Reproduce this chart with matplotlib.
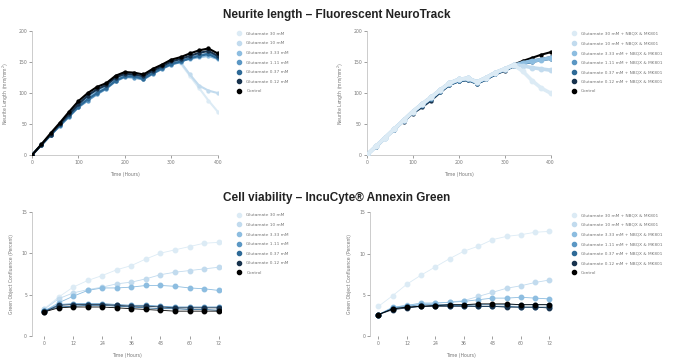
import matplotlib.pyplot as plt

# neurite length, sampled every 20 h
hours_nl = list(range(0, 401, 20))
# cell viability, every 6 h
hours_cv = list(range(0, 73, 6))

labels_left = ['Glutamate 30 mM', 'Glutamate 10 mM', 'Glutamate 3.33 mM',
               'Glutamate 1.11 mM', 'Glutamate 0.37 mM', 'Glutamate 0.12 mM', 'Control']
labels_right = ['Glutamate 30 mM + NBQX & MK801', 'Glutamate 10 mM + NBQX & MK801',
                'Glutamate 3.33 mM + NBQX & MK801', 'Glutamate 1.11 mM + NBQX & MK801',
                'Glutamate 0.37 mM + NBQX & MK801', 'Glutamate 0.12 mM + NBQX & MK801', 'Control']

colors = ['#dcebf5', '#c2dbee', '#8dbde0', '#5b97c4', '#2e6a97', '#17324d', '#000000']

nl_left = [
    [0, 17, 33, 50, 66, 82, 95, 106, 113, 124, 130, 129, 126, 135, 143, 150, 148, 128, 108, 88, 70],
    [0, 17, 33, 50, 66, 82, 95, 106, 113, 124, 130, 129, 126, 135, 143, 150, 150, 130, 112, 104, 100],
    [0, 16, 32, 48, 64, 79, 92, 103, 111, 122, 128, 127, 124, 133, 141, 148, 152, 155, 158, 160, 155],
    [0, 16, 32, 47, 62, 77, 88, 98, 107, 119, 126, 125, 122, 131, 139, 146, 150, 157, 161, 164, 158],
    [0, 16, 32, 48, 63, 78, 90, 100, 108, 120, 127, 127, 123, 132, 140, 147, 151, 156, 160, 163, 156],
    [0, 16, 33, 50, 66, 82, 96, 106, 113, 125, 131, 130, 127, 136, 143, 151, 155, 160, 165, 168, 160],
    [0, 17, 35, 52, 70, 87, 100, 110, 116, 128, 134, 133, 130, 139, 146, 154, 158, 164, 169, 172, 164],
]

nl_right = [
    [0, 14, 28, 42, 56, 70, 82, 93, 105, 116, 122, 124, 118, 125, 133, 139, 145, 135, 120, 108, 100],
    [0, 14, 28, 42, 56, 70, 82, 93, 105, 116, 122, 124, 118, 125, 133, 139, 146, 144, 141, 139, 137],
    [0, 14, 28, 42, 56, 70, 82, 93, 105, 116, 122, 124, 118, 125, 133, 139, 145, 149, 152, 154, 157],
    [0, 13, 27, 41, 55, 69, 80, 91, 103, 114, 120, 122, 116, 123, 131, 137, 143, 148, 151, 154, 156],
    [0, 13, 27, 41, 55, 68, 79, 90, 102, 113, 119, 121, 115, 122, 130, 137, 143, 147, 150, 153, 155],
    [0, 13, 27, 41, 54, 67, 77, 88, 101, 113, 119, 121, 115, 122, 130, 136, 143, 148, 152, 155, 158],
    [0, 13, 27, 41, 55, 69, 80, 91, 103, 114, 120, 122, 116, 123, 131, 138, 146, 152, 157, 162, 166],
]

cv_left = [
    [3.3, 4.7, 5.9, 6.7, 7.3, 8.0, 8.5, 9.3, 10.0, 10.4, 10.8, 11.2, 11.3],
    [3.2, 4.5, 5.2, 5.6, 5.9, 6.3, 6.5, 6.9, 7.4, 7.7, 7.9, 8.1, 8.3],
    [3.0, 4.0, 4.8, 5.5, 5.8, 5.8, 5.9, 6.1, 6.1, 6.0, 5.8, 5.7, 5.5],
    [3.0, 3.8, 3.9, 3.9, 3.9, 3.8, 3.7, 3.7, 3.6, 3.5, 3.5, 3.5, 3.5],
    [3.0, 3.5, 3.6, 3.7, 3.7, 3.6, 3.5, 3.4, 3.3, 3.3, 3.2, 3.2, 3.1],
    [2.9, 3.7, 3.8, 3.8, 3.8, 3.7, 3.6, 3.6, 3.5, 3.4, 3.4, 3.4, 3.4],
    [2.9, 3.4, 3.5, 3.5, 3.5, 3.4, 3.3, 3.2, 3.1, 3.0, 3.0, 3.0, 3.0],
]

cv_right = [
    [3.6, 4.9, 6.3, 7.4, 8.4, 9.4, 10.3, 10.9, 11.7, 12.1, 12.3, 12.6, 12.7],
    [2.6, 3.4, 3.8, 3.9, 4.0, 4.1, 4.3, 4.8, 5.3, 5.8, 6.1, 6.5, 6.8],
    [2.6, 3.5, 3.7, 4.0, 4.0, 4.1, 4.2, 4.4, 4.6, 4.6, 4.7, 4.6, 4.5],
    [2.6, 3.4, 3.6, 3.8, 3.8, 3.8, 3.8, 3.8, 3.8, 3.8, 3.8, 3.8, 3.8],
    [2.6, 3.3, 3.5, 3.6, 3.7, 3.7, 3.7, 3.6, 3.6, 3.6, 3.5, 3.5, 3.5],
    [2.6, 3.2, 3.4, 3.6, 3.6, 3.6, 3.6, 3.6, 3.6, 3.5, 3.5, 3.5, 3.4],
    [2.6, 3.3, 3.5, 3.6, 3.7, 3.8, 3.8, 3.9, 3.9, 3.9, 3.8, 3.8, 3.8],
]

title_font = ['Liberation Sans', 'DejaVu Sans']
grey = '#777777'

fig = plt.figure(figsize=(6.73, 3.58), dpi=100)


def style_axes(ax, ylabel):
    for s in ['top', 'right']:
        ax.spines[s].set_visible(False)
    for s in ['left', 'bottom']:
        ax.spines[s].set_color('#c4c4c4')
        ax.spines[s].set_linewidth(0.6)
    ax.tick_params(labelsize=3.3, colors=grey, length=2, width=0.5, pad=1.5)
    ax.set_xlabel('Time (Hours)', fontsize=3.3, color=grey, labelpad=5)
    ax.set_ylabel(ylabel, fontsize=3.3, color=grey, labelpad=5)


def add_legend(ax, legend_pos):
    ax.legend(loc='upper left', bbox_to_anchor=legend_pos, bbox_transform=fig.transFigure,
              fontsize=3.1, frameon=False, handlelength=0.6, labelspacing=1.3,
              handletextpad=1.3, labelcolor=grey)
    for h in ax.get_legend().legend_handles:
        h.set_linestyle('')
        h.set_markersize(3)


def neurite_panel(rect, data, labels, legend_pos, reverse):
    ax = fig.add_axes(rect)
    order = range(len(data))
    for i in order:
        # on the right panel the pale series sit on top with bigger marks
        z = (len(data) - i) if reverse else i
        w = 2.6 if (reverse and i < 3) else 1.5
        ax.plot(hours_nl, data[i], color=colors[i], lw=w, marker='o', ms=w + 0.6,
                label=labels[i], zorder=z + 2)
    ax.set_xlim(0, 400)
    ax.set_ylim(0, 200)
    ax.set_xticks([0, 100, 200, 300, 400])
    ax.set_yticks([0, 50, 100, 150, 200])
    style_axes(ax, 'Neurite Length (mm/mm$^2$)')
    add_legend(ax, legend_pos)
    return ax


def viability_panel(rect, data, labels, xmin, legend_pos):
    ax = fig.add_axes(rect)
    for vals, c, lab in zip(data, colors, labels):
        ax.plot(hours_cv, vals, color=c, lw=0.6, marker='o', ms=3.2, label=lab)
    ax.set_xlim(xmin, 73)
    ax.set_ylim(0, 15)
    ax.set_xticks([0, 12, 24, 36, 48, 60, 72])
    ax.set_yticks([0, 5, 10, 15])
    style_axes(ax, 'Green Object Confluence (Percent)')
    ax.spines['bottom'].set_visible(False)
    add_legend(ax, legend_pos)
    return ax


neurite_panel([0.0475, 0.567, 0.276, 0.346], nl_left, labels_left, (0.348, 0.922), False)
neurite_panel([0.545, 0.567, 0.273, 0.346], nl_right, labels_right, (0.845, 0.922), True)
viability_panel([0.0475, 0.0615, 0.281, 0.347], cv_left, labels_left, -5, (0.348, 0.415))
viability_panel([0.55, 0.0615, 0.27, 0.345], cv_right, labels_right, -3.5, (0.845, 0.415))

fig.text(0.5, 0.958, 'Neurite length \u2013 Fluorescent NeuroTrack', ha='center', va='center',
         fontsize=8.5, fontweight='bold', family=title_font, color='#222222')
fig.text(0.5, 0.447, 'Cell viability \u2013 IncuCyte\u00ae Annexin Green', ha='center', va='center',
         fontsize=8.5, fontweight='bold', family=title_font, color='#222222')

fig.savefig('out.png', dpi=100)
